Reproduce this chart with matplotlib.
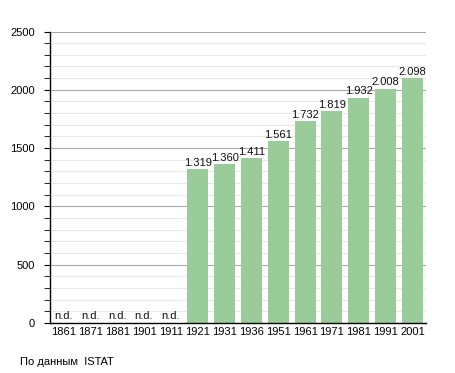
import matplotlib
matplotlib.use("Agg")
import matplotlib.pyplot as plt
from matplotlib.ticker import MultipleLocator

plt.rcParams["font.family"] = ["Liberation Sans", "DejaVu Sans"]

years = ["1861", "1871", "1881", "1901", "1911", "1921", "1931", "1936",
         "1951", "1961", "1971", "1981", "1991", "2001"]
population = [None, None, None, None, None, 1319, 1360, 1411,
              1561, 1732, 1819, 1932, 2008, 2098]
labels = ["n.d.", "n.d.", "n.d.", "n.d.", "n.d.", "1.319", "1.360", "1.411",
          "1.561", "1.732", "1.819", "1.932", "2.008", "2.098"]

fig = plt.figure(figsize=(4.55, 3.73), dpi=100)
ax = fig.add_axes([0.110, 0.134, 0.826, 0.7815])

x = list(range(len(years)))
vals = [v if v is not None else 0 for v in population]
ax.bar(x, vals, width=0.78, color="#99CC99", zorder=2)

for xi, v, lab in zip(x, population, labels):
    if v is None:
        ax.text(xi, 15, lab, ha="center", va="bottom", fontsize=8, color="#111111")
    else:
        ax.text(xi, v + 12, lab, ha="center", va="bottom", fontsize=8, color="#111111")

ax.set_xlim(-0.5, len(years) - 0.5)
ax.set_ylim(0, 2500)
ax.set_xticks(x)
ax.set_xticklabels(years, fontsize=8)
ax.tick_params(axis="x", length=0, pad=3)
ax.yaxis.set_major_locator(MultipleLocator(500))
ax.yaxis.set_minor_locator(MultipleLocator(100))
ax.tick_params(axis="y", which="major", length=4, labelsize=8, pad=7)
ax.tick_params(axis="y", which="minor", length=4)
ax.grid(axis="y", which="major", color="#AAAAAA", linewidth=0.8, zorder=0)
ax.grid(axis="y", which="minor", color="#E8E8E8", linewidth=0.8, zorder=0)
ax.set_axisbelow(True)
for s in ["top", "right"]:
    ax.spines[s].set_visible(False)
ax.spines["left"].set_linewidth(1.0)
ax.spines["bottom"].set_linewidth(1.0)

fig.text(20 / 455, 1 - 362 / 373, "По данным  ISTAT", fontsize=8, va="center", ha="left")

fig.savefig("out.png", dpi=100)
